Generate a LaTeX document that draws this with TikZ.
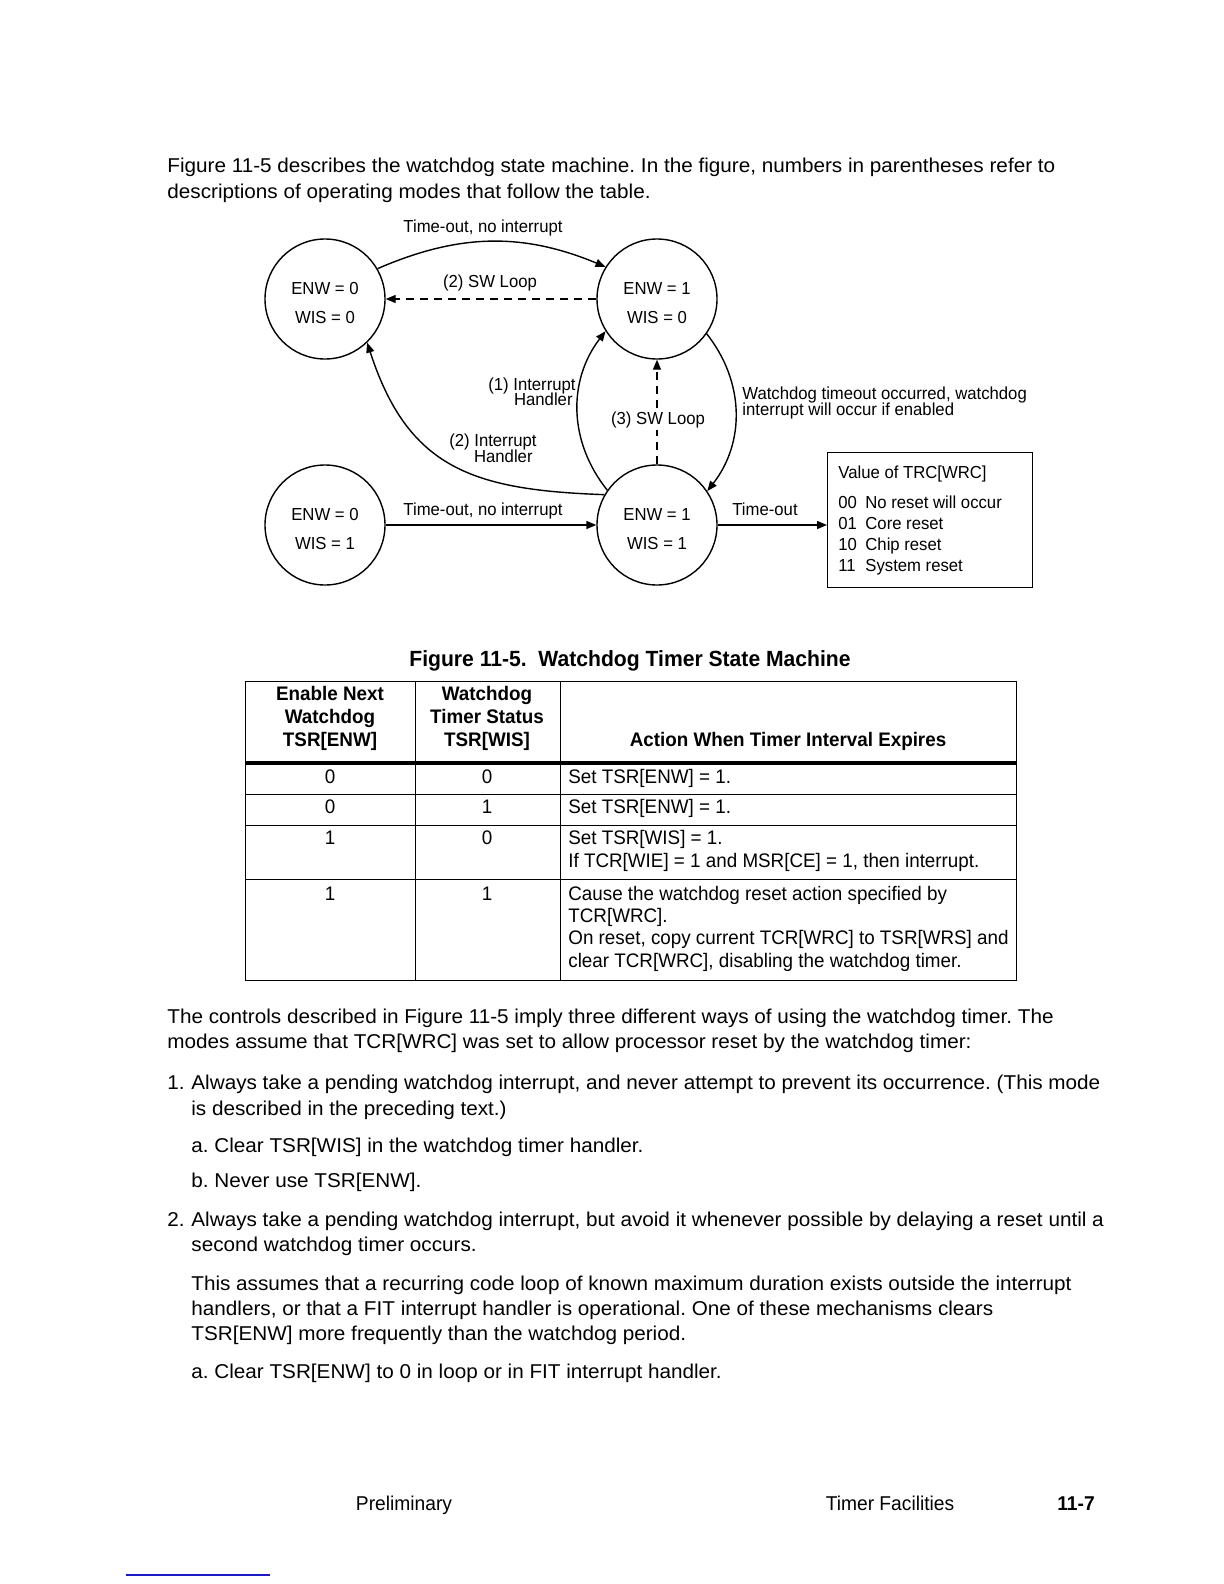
\documentclass[tikz,border=0pt]{standalone}
\usepackage{fontspec}
\setmainfont{Liberation Sans}[FakeStretch=0.96]
\newfontfamily\widefam{Liberation Sans}[FakeStretch=1.035]
\usetikzlibrary{arrows.meta, positioning, calc}
\frenchspacing
\newcommand{\bodyfont}{\widefam\fontsize{10}{12.5}\selectfont}
\newcommand{\diagfont}{\fontsize{8.7}{10}\selectfont}
\newcommand{\tabfont}{\fontsize{9.8}{11.25}\selectfont}
% due righe dentro uno stato
\newcommand{\wdval}[2]{\rule{0pt}{10pt}#1\\#2}
\definecolor{scanblue}{HTML}{1A1AC8}
\tikzset{
  % stato della macchina watchdog
  wdstate/.style={circle, draw, line width=0.7pt, minimum size=60pt, inner sep=0pt,
    align=center, font=\fontsize{8.7}{14.5}\selectfont},
  % transizioni
  trans/.style={line width=0.7pt, -{Triangle[length=5pt, width=4pt]}},
  swloop/.style={trans, dash pattern=on 4pt off 3pt},
  % etichette del diagramma
  lbl/.style={font=\diagfont, inner sep=0pt, anchor=base},
  lbll/.style={lbl, anchor=base west},
  lblr/.style={lbl, anchor=base east},
  % testo della pagina
  txt/.style={font=\bodyfont, inner sep=0pt, anchor=base west},
  % celle della tabella
  cell/.style={font=\tabfont, inner sep=0pt, anchor=base},
  hcell/.style={cell, font=\tabfont\bfseries},
  lcell/.style={cell, anchor=base west},
  tabrule/.style={line width=0.5pt},
}
\begin{document}
\begin{tikzpicture}[x=0.5pt, y=-0.5pt]
  \useasboundingbox[fill=white] (0,0) rectangle (1224,1584);

  % testo introduttivo
  \node[txt] (p1a) at (167,172) {Figure 11-5 describes the watchdog state machine. In the figure, numbers in parentheses refer to};
  \node[txt] (p1b) at (167,198) {descriptions of operating modes that follow the table.};

  % stati
  \node[wdstate] (s00) at (325,299) {\wdval{ENW = 0}{WIS = 0}};
  \node[wdstate] (s10) at (657,299) {\wdval{ENW = 1}{WIS = 0}};
  \node[wdstate] (s01) at (325,525) {\wdval{ENW = 0}{WIS = 1}};
  \node[wdstate] (s11) at (657,525) {\wdval{ENW = 1}{WIS = 1}};

  % box dei valori di TRC[WRC]
  \node[draw, line width=0.7pt, minimum width=102.5pt, minimum height=67.5pt,
    inner sep=0pt, anchor=north west] (wrc) at (827,452) {};
  \node[lbll] (wrct) at (838,478) {Value of TRC[WRC]};
  \foreach \code/\desc [count=\i] in {00/No reset will occur, 01/Core reset,
      10/Chip reset, 11/System reset}
  {
    \node[lbll] (wrc-c\i) at (838,487+21*\i) {\code};
    \node[lbll] (wrc-d\i) at (865,487+21*\i) {\desc};
  }

  % transizioni
  \draw[trans] (s00.30) to[bend left=23] (s10.148);
  \draw[swloop] (s10) -- (s00);
  \draw[trans] (s11.150) to[out=178, in=-72, looseness=1.2] (s00.-46);
  \draw[trans] (s11.145) to[bend left=38] (s10.212);
  \draw[trans] (s10.-35) to[bend left=38] (s11.34);
  \draw[swloop] (s11) -- (s10);
  \draw[trans] (s01) -- (s11);
  \draw[trans] (s11.east) -- (s11.east -| wrc.west);

  % etichette delle transizioni
  \node[lbl] (l-top) at (483,232) {Time-out, no interrupt};
  \node[lbl] (l-sw2) at (490,287) {(2) SW Loop};
  \node[lblr] (l-ih1a) at (576,390) {(1) Interrupt};
  \node[lblr] (l-ih1b) at (573,405) {Handler};
  \node[lblr] (l-ih2a) at (537,446) {(2) Interrupt};
  \node[lblr] (l-ih2b) at (533,462) {Handler};
  \node[lbl, fill=white, inner sep=1pt] (l-sw3) at (658,424) {(3) SW Loop};
  \node[lbll] (l-wda) at (742,399) {Watchdog timeout occurred, watchdog};
  \node[lbll] (l-wdb) at (742,415) {interrupt will occur if enabled};
  \node[lbl] (l-bot) at (483,515) {Time-out, no interrupt};
  \node[lbl] (l-to) at (765,515) {Time-out};

  % didascalia
  \node[txt, anchor=base, font=\fontsize{11}{13}\selectfont\bfseries] (cap) at (630,666)
    {Figure 11-5.\ \ Watchdog Timer State Machine};

  % tabella
  \draw[tabrule] (245,681) rectangle (1016,980);
  \draw[line width=1.6pt] (245,763) -- (1016,763);
  \foreach \yy in {794,825,879}
    \draw[tabrule] (245,\yy) -- (1016,\yy);
  \foreach \xx in {415,560}
    \draw[tabrule] (\xx,681) -- (\xx,980);
  \node[hcell] (h1a) at (330,700) {Enable Next};
  \node[hcell] (h1b) at (330,723) {Watchdog};
  \node[hcell] (h1c) at (330,746) {TSR[ENW]};
  \node[hcell] (h2a) at (487,700) {Watchdog};
  \node[hcell] (h2b) at (487,723) {Timer Status};
  \node[hcell] (h2c) at (487,746) {TSR[WIS]};
  \node[hcell] (h3) at (788,746) {Action When Timer Interval Expires};
  \node[cell] (r1a) at (330,783) {0};
  \node[cell] (r1b) at (487,783) {0};
  \node[lcell] (r1c) at (568,783) {Set TSR[ENW] = 1.};
  \node[cell] (r2a) at (330,813) {0};
  \node[cell] (r2b) at (487,813) {1};
  \node[lcell] (r2c) at (568,813) {Set TSR[ENW] = 1.};
  \node[cell] (r3a) at (330,844) {1};
  \node[cell] (r3b) at (487,844) {0};
  \node[lcell] (r3c) at (568,844) {Set TSR[WIS] = 1.};
  \node[lcell] (r3d) at (568,867) {If TCR[WIE] = 1 and MSR[CE] = 1, then interrupt.};
  \node[cell] (r4a) at (330,900) {1};
  \node[cell] (r4b) at (487,900) {1};
  \node[lcell] (r4c) at (568,900) {Cause the watchdog reset action specified by};
  \node[lcell] (r4d) at (568,922) {TCR[WRC].};
  \node[lcell] (r4e) at (568,944) {On reset, copy current TCR[WRC] to TSR[WRS] and};
  \node[lcell] (r4f) at (568,967) {clear TCR[WRC], disabling the watchdog timer.};

  % modi di funzionamento
  \node[txt] (p2a) at (167,1023) {The controls described in Figure 11-5 imply three different ways of using the watchdog timer. The};
  \node[txt] (p2b) at (167,1048) {modes assume that TCR[WRC] was set to allow processor reset by the watchdog timer:};
  \node[txt] (m1n) at (167,1089) {1.};
  \node[txt] (m1a) at (191,1089) {Always take a pending watchdog interrupt, and never attempt to prevent its occurrence. (This mode};
  \node[txt] (m1b) at (191,1115) {is described in the preceding text.)};
  \node[txt] (m1an) at (191,1152) {a.};
  \node[txt] (m1at) at (214,1152) {Clear TSR[WIS] in the watchdog timer handler.};
  \node[txt] (m1bn) at (191,1187) {b.};
  \node[txt] (m1bt) at (214,1187) {Never use TSR[ENW].};
  \node[txt] (m2n) at (167,1226) {2.};
  \node[txt] (m2a) at (191,1226) {Always take a pending watchdog interrupt, but avoid it whenever possible by delaying a reset until a};
  \node[txt] (m2b) at (191,1251) {second watchdog timer occurs.};
  \node[txt] (m2c) at (191,1290) {This assumes that a recurring code loop of known maximum duration exists outside the interrupt};
  \node[txt] (m2d) at (191,1315) {handlers, or that a FIT interrupt handler is operational. One of these mechanisms clears};
  \node[txt] (m2e) at (191,1340) {TSR[ENW] more frequently than the watchdog period.};
  \node[txt] (m2an) at (191,1378) {a.};
  \node[txt] (m2at) at (214,1378) {Clear TSR[ENW] to 0 in loop or in FIT interrupt handler.};

  % pie' di pagina
  \node[txt, anchor=base, font=\fontsize{10}{12}\selectfont] (f1) at (404,1510) {Preliminary};
  \node[txt, anchor=base, font=\fontsize{10}{12}\selectfont] (f2) at (890,1510) {Timer Facilities};
  \node[txt, anchor=base, font=\fontsize{10}{12}\selectfont\bfseries] (f3) at (1076,1510) {11-7};
  \draw[scanblue, line width=1pt] (126,1575) -- (270,1575);
\end{tikzpicture}
\end{document}
